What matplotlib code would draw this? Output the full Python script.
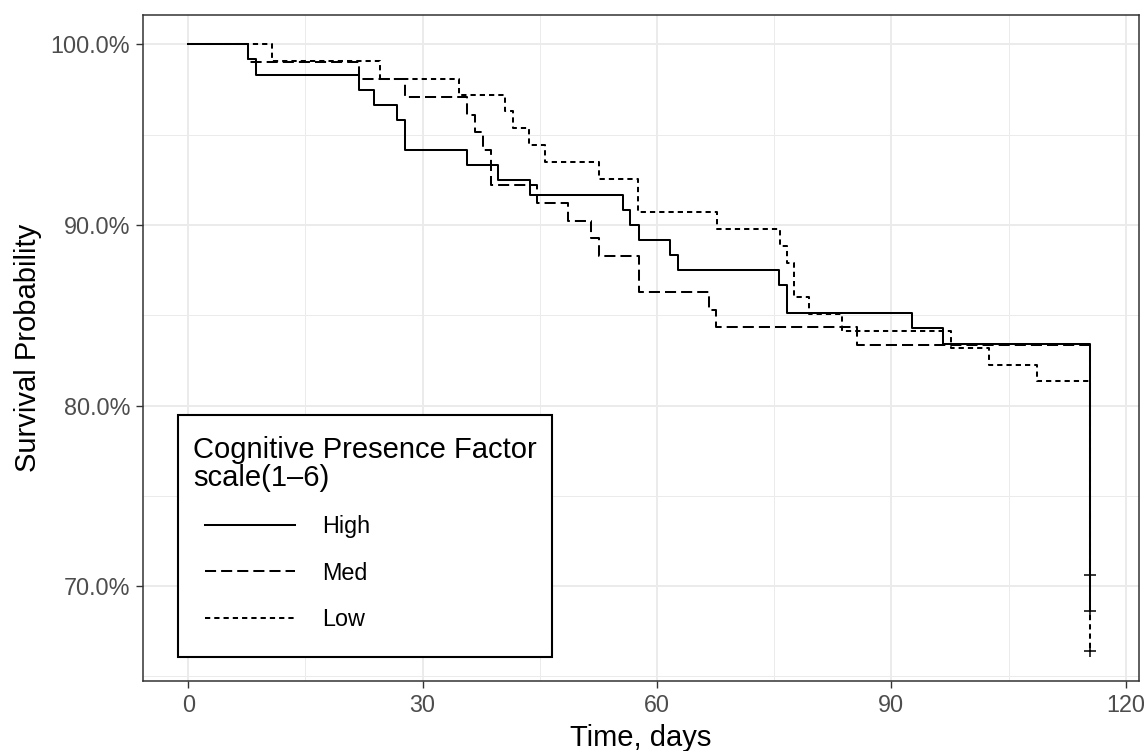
import matplotlib
matplotlib.use("Agg")
import numpy as np
from matplotlib import pyplot as plt
from matplotlib.legend_handler import HandlerLine2D
from matplotlib.patches import Rectangle
from matplotlib.ticker import FuncFormatter, MultipleLocator

plt.rcParams['font.family'] = ['Liberation Sans', 'DejaVu Sans']

# Kaplan-Meier steps (days, survival %)
high_t = [0, 7.7, 8.7, 21.8, 23.8, 26.7, 27.7, 35.7, 39.6, 43.7, 55.6, 56.6,
          57.7, 61.6, 62.7, 75.6, 76.6, 92.6, 96.6, 115.4]
high_s = [100, 99.17, 98.33, 97.5, 96.67, 95.83, 94.17, 93.33, 92.5, 91.67,
          90.83, 90.0, 89.17, 88.33, 87.5, 86.67, 85.1, 84.3, 83.43, 68.6]

med_t = [0, 7.7, 21.8, 27.7, 35.7, 36.7, 37.7, 38.7, 44.6, 48.6, 51.6, 52.6,
         57.7, 66.6, 67.6, 85.6, 115.4]
med_s = [100, 99.05, 98.08, 97.1, 96.1, 95.13, 94.15, 92.2, 91.2, 90.24,
         89.26, 88.26, 86.3, 85.3, 84.33, 83.35, 70.6]

low_t = [0, 10.7, 24.6, 34.7, 40.6, 41.6, 43.6, 45.7, 52.6, 57.6, 67.7, 75.7,
         76.6, 77.5, 79.5, 83.7, 97.6, 102.5, 108.6, 115.4]
low_s = [100, 99.07, 98.1, 97.22, 96.3, 95.37, 94.44, 93.5, 92.57, 90.7,
         89.75, 88.82, 87.88, 86.0, 85.07, 84.13, 83.2, 82.26, 81.33, 66.4]

groups = ["High", "Med", "Low"]
dash_styles = ["-", (0, (5.5, 2.5)), (0, (2.6, 2.0))]

fig = plt.figure(figsize=(11.44, 7.51), dpi=100)
ax = fig.add_axes([143/1144, 1-681/751, (1139-143)/1144, (681-15)/751])

lines = []
for t, s, ls in zip([high_t, med_t, low_t], [high_s, med_s, low_s], dash_styles):
    ln, = ax.step(t, s, where="post", color="black", lw=1.45, linestyle=ls)
    lines.append(ln)
    # censor mark at last follow-up
    ax.plot(t[-1], s[-1], marker="+", color="black", ms=9, mew=1.1,
            linestyle="none")

ax.set_xlim(-5.8, 121.7)
ax.set_ylim(64.74, 101.63)

ax.xaxis.set_major_locator(MultipleLocator(30))
ax.xaxis.set_minor_locator(MultipleLocator(15))
ax.yaxis.set_major_locator(MultipleLocator(10))
ax.yaxis.set_minor_locator(MultipleLocator(5))
ax.yaxis.set_major_formatter(FuncFormatter(lambda v, p: f"{v:.1f}%"))

ax.grid(which="major", color="#EBEBEB", lw=1.4)
ax.grid(which="minor", color="#EBEBEB", lw=0.7)
ax.set_axisbelow(True)

for sp in ax.spines.values():
    sp.set_color("#333333")
    sp.set_linewidth(1.1)

ax.tick_params(which="major", length=5.2, width=1.0, color="#333333",
               labelsize=16.8, labelcolor="#4D4D4D", pad=4)
ax.tick_params(which="minor", length=0)

ax.set_xlabel("Time, days", fontsize=21, labelpad=5)
ax.set_ylabel("Survival Probability", fontsize=21, labelpad=6)

# legend box drawn separately so its padding can match ggplot's
ax.add_patch(Rectangle((0.0351, 0.0360), 0.3755, 0.3634, transform=ax.transAxes,
                       facecolor="white", edgecolor="black", lw=1.5,
                       zorder=4.5, clip_on=False))
leg = ax.legend(lines, groups,
                title="Cognitive Presence Factor\nscale(1\u20136)",
                loc="upper left", bbox_to_anchor=(0.0502, 0.3679),
                borderaxespad=0, borderpad=0, frameon=False,
                fontsize=16.8, title_fontsize=21,
                alignment="left", handlelength=4.37, handletextpad=1.16,
                labelspacing=1.0,
                handler_map={ln: HandlerLine2D(xpad=0.51) for ln in lines})
leg.get_title().set_linespacing(1.0)

fig.savefig("out.png", dpi=100)
